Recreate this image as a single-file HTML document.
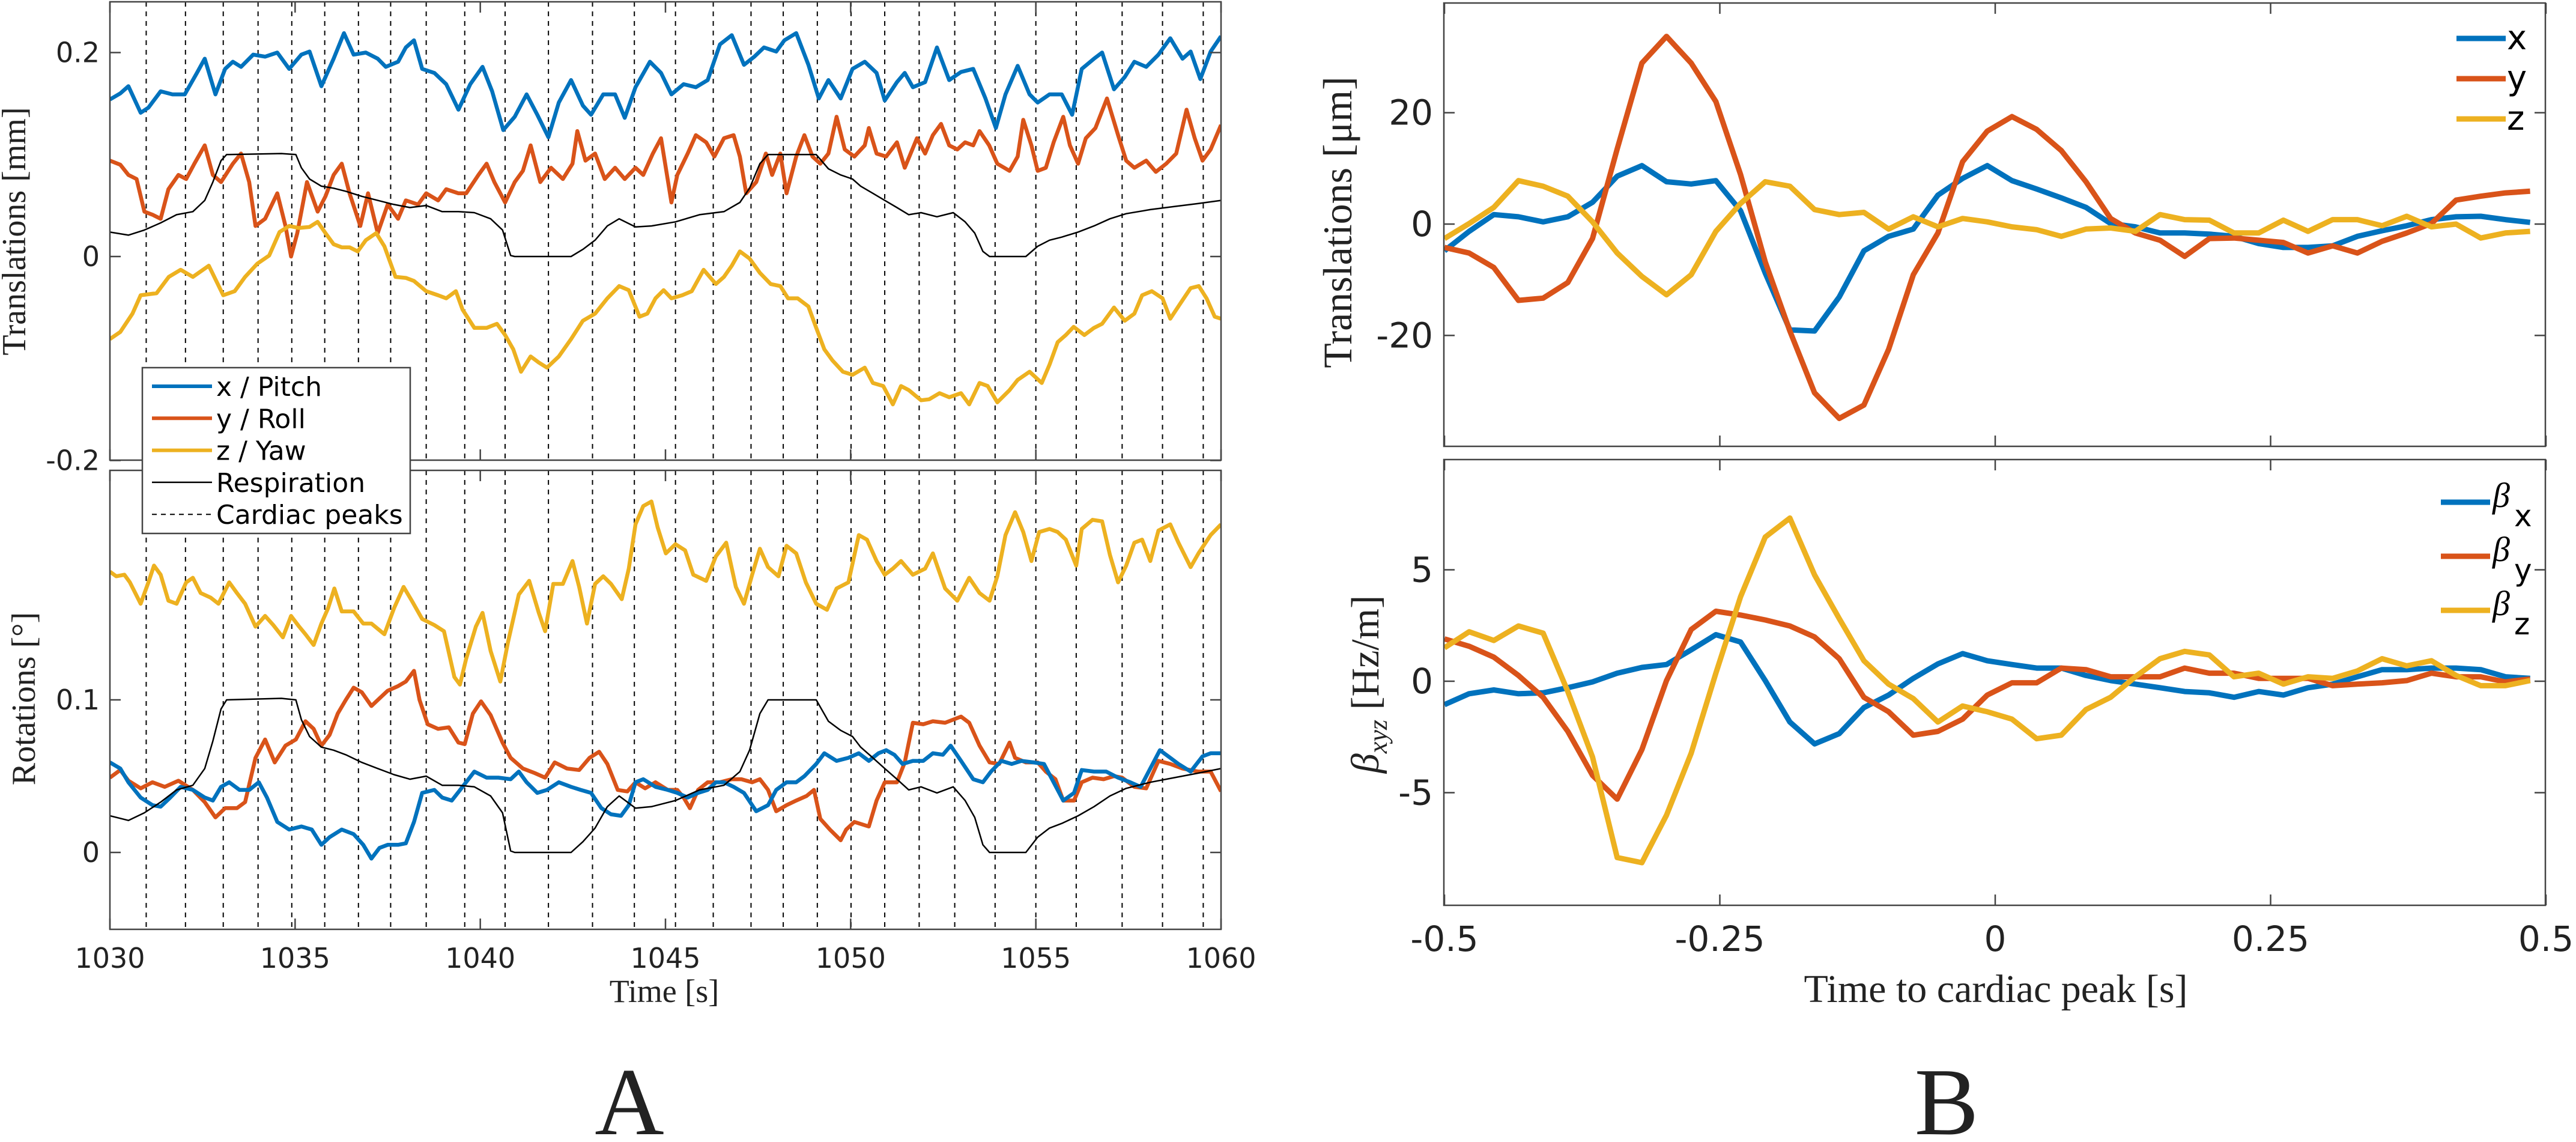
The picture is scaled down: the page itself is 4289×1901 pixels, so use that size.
<!DOCTYPE html>
<html><head><meta charset="utf-8"><style>
html,body{margin:0;padding:0;background:#fff;}
svg{display:block;}
</style></head><body>
<svg id="fig" xmlns="http://www.w3.org/2000/svg" width="4289" height="1901" viewBox="0 0 4289 1901">
<defs>
<clipPath id="cA1"><rect x="183" y="3" width="1850" height="763"/></clipPath>
<clipPath id="cA2"><rect x="183" y="783" width="1850" height="764"/></clipPath>
<clipPath id="cB1"><rect x="2404" y="5" width="1834" height="738"/></clipPath>
<clipPath id="cB2"><rect x="2404" y="765" width="1834" height="742"/></clipPath>
</defs>
<g id="root"></g>
</svg>
<script>
// ===== Panel A data =====
const cardiacPeaks=[1030.98,1032.04,1033.06,1034.0,1034.91,1035.80,1036.71,1037.58,1038.54,1039.58,1040.67,1041.84,1043.03,1044.16,1045.27,1046.29,1047.31,1048.18,1049.10,1050.01,1050.92,1051.85,1052.81,1053.90,1055.00,1056.09,1057.33,1058.42,1059.52];
const txT=[0,0.28,0.5,0.83,1.04,1.37,1.69,2.02,2.35,2.56,2.85,3.11,3.32,3.54,3.87,4.19,4.52,4.84,5.17,5.39,5.71,6.04,6.32,6.58,6.91,7.23,7.45,7.78,7.99,8.21,8.43,8.76,9.08,9.41,9.73,10.06,10.32,10.62,10.93,11.25,11.54,11.84,12.12,12.45,12.77,12.99,13.32,13.64,13.9,14.19,14.58,14.88,15.16,15.49,15.82,16.14,16.47,16.79,17.12,17.4,17.66,17.99,18.21,18.53,18.86,19.14,19.4,19.73,20.05,20.38,20.7,20.92,21.25,21.46,21.68,22.01,22.33,22.66,22.98,23.31,23.64,23.92,24.18,24.51,24.83,25.05,25.37,25.7,25.98,26.24,26.57,26.79,27.11,27.4,27.66,27.98,28.31,28.63,28.96,29.18,29.44,29.72,30];
const txV=[0.154,0.160,0.167,0.141,0.146,0.162,0.159,0.159,0.180,0.194,0.159,0.184,0.191,0.186,0.198,0.196,0.200,0.184,0.198,0.201,0.167,0.194,0.219,0.198,0.200,0.194,0.186,0.191,0.205,0.212,0.184,0.180,0.169,0.144,0.169,0.186,0.162,0.124,0.137,0.159,0.139,0.117,0.151,0.173,0.148,0.139,0.159,0.159,0.136,0.166,0.191,0.180,0.159,0.169,0.166,0.173,0.208,0.217,0.188,0.196,0.205,0.201,0.212,0.219,0.188,0.155,0.173,0.155,0.184,0.191,0.180,0.153,0.171,0.180,0.166,0.171,0.205,0.173,0.181,0.184,0.155,0.126,0.159,0.187,0.159,0.151,0.159,0.159,0.139,0.184,0.194,0.200,0.164,0.176,0.191,0.186,0.198,0.214,0.194,0.201,0.174,0.201,0.216];
const tyT=[0,0.28,0.5,0.72,0.93,1.15,1.37,1.58,1.85,2.06,2.28,2.56,2.78,3.0,3.32,3.54,3.76,3.93,4.19,4.52,4.74,4.89,5.06,5.32,5.61,5.82,6.04,6.26,6.47,6.76,6.97,7.23,7.5,7.78,7.99,8.32,8.54,8.86,9.08,9.41,9.62,9.95,10.17,10.38,10.67,10.93,11.15,11.36,11.62,11.91,12.23,12.49,12.62,12.84,13.1,13.36,13.64,13.9,14.19,14.4,14.66,14.88,15.16,15.32,15.6,15.82,16.1,16.32,16.58,16.84,17.01,17.18,17.45,17.71,17.88,18.1,18.27,18.53,18.75,18.97,19.18,19.4,19.62,19.84,20.1,20.38,20.49,20.7,20.96,21.25,21.46,21.79,22.01,22.22,22.44,22.66,22.88,23.09,23.31,23.48,23.74,23.96,24.29,24.51,24.66,24.88,25.05,25.27,25.48,25.74,25.92,26.14,26.35,26.61,26.92,27.22,27.44,27.66,27.98,28.24,28.52,28.79,29.07,29.29,29.5,29.72,30];
const tyV=[0.094,0.090,0.080,0.076,0.044,0.041,0.037,0.066,0.080,0.076,0.091,0.109,0.080,0.073,0.091,0.101,0.073,0.030,0.037,0.062,0.030,0.000,0.023,0.073,0.044,0.059,0.080,0.091,0.062,0.030,0.062,0.023,0.051,0.037,0.055,0.051,0.062,0.055,0.066,0.062,0.062,0.080,0.091,0.073,0.053,0.073,0.084,0.109,0.073,0.087,0.076,0.091,0.123,0.094,0.101,0.076,0.087,0.076,0.087,0.080,0.101,0.116,0.053,0.080,0.101,0.119,0.112,0.098,0.116,0.119,0.098,0.062,0.073,0.101,0.080,0.101,0.062,0.098,0.119,0.098,0.091,0.101,0.137,0.105,0.098,0.109,0.126,0.101,0.098,0.112,0.087,0.116,0.101,0.119,0.130,0.109,0.105,0.112,0.109,0.123,0.109,0.091,0.084,0.098,0.134,0.109,0.084,0.087,0.112,0.137,0.109,0.091,0.116,0.126,0.155,0.119,0.094,0.087,0.094,0.083,0.091,0.101,0.144,0.116,0.094,0.105,0.129];
const tzT=[0,0.28,0.61,0.83,1.26,1.59,1.91,2.24,2.67,3.06,3.37,3.65,3.98,4.3,4.58,4.84,5.1,5.39,5.61,5.82,6.04,6.26,6.47,6.69,6.91,7.19,7.41,7.71,7.99,8.21,8.54,8.86,9.08,9.34,9.52,9.84,10.17,10.45,10.67,10.89,11.1,11.36,11.58,11.8,12.12,12.45,12.77,13.1,13.43,13.75,14.01,14.3,14.51,14.73,14.95,15.16,15.45,15.71,16.03,16.36,16.58,16.79,17.01,17.27,17.55,17.84,18.1,18.31,18.57,18.86,19.07,19.29,19.51,19.79,20.05,20.38,20.6,20.88,21.14,21.36,21.57,21.9,22.12,22.4,22.66,22.98,23.2,23.48,23.7,23.96,24.29,24.51,24.83,25.16,25.37,25.59,25.81,26.02,26.31,26.57,26.79,27.11,27.4,27.66,27.87,28.13,28.42,28.63,28.92,29.18,29.4,29.61,29.83,30];
const tzV=[-0.081,-0.074,-0.056,-0.038,-0.036,-0.020,-0.013,-0.020,-0.009,-0.038,-0.034,-0.020,-0.007,0.001,0.024,0.030,0.028,0.029,0.034,0.023,0.012,0.009,0.009,0.005,0.016,0.023,0.010,-0.020,-0.021,-0.024,-0.034,-0.038,-0.041,-0.034,-0.052,-0.070,-0.070,-0.066,-0.077,-0.091,-0.113,-0.098,-0.104,-0.109,-0.098,-0.081,-0.063,-0.056,-0.041,-0.029,-0.033,-0.059,-0.056,-0.041,-0.033,-0.041,-0.038,-0.034,-0.013,-0.027,-0.020,-0.009,0.005,-0.002,-0.016,-0.027,-0.029,-0.041,-0.041,-0.049,-0.070,-0.091,-0.102,-0.113,-0.116,-0.109,-0.124,-0.127,-0.145,-0.127,-0.131,-0.141,-0.140,-0.134,-0.138,-0.134,-0.145,-0.124,-0.127,-0.143,-0.131,-0.121,-0.113,-0.124,-0.106,-0.084,-0.077,-0.069,-0.077,-0.070,-0.066,-0.050,-0.063,-0.056,-0.038,-0.034,-0.041,-0.061,-0.045,-0.031,-0.029,-0.041,-0.059,-0.061];
const respT=[0,0.5,0.93,1.37,1.8,2.24,2.56,2.78,3.0,3.15,4.63,5.02,5.17,5.39,5.71,6.04,6.37,6.8,7.23,7.67,8.1,8.54,8.97,9.41,9.84,10.28,10.6,10.82,10.93,12.45,12.77,13.1,13.43,13.75,14.19,14.62,15.27,15.92,16.58,17.01,17.27,17.55,17.77,19.07,19.4,19.73,20.05,20.27,20.6,20.92,21.25,21.57,21.9,22.33,22.77,23.09,23.35,23.57,23.75,24.73,25.05,25.37,25.7,26.14,26.57,27.0,27.44,28.09,28.74,29.39,30];
const respV=[0.024,0.021,0.026,0.033,0.041,0.044,0.055,0.073,0.094,0.100,0.101,0.100,0.087,0.076,0.069,0.067,0.064,0.059,0.055,0.051,0.048,0.050,0.044,0.044,0.043,0.037,0.026,0.001,0.000,0.000,0.007,0.016,0.030,0.037,0.029,0.030,0.034,0.041,0.044,0.053,0.067,0.091,0.100,0.100,0.086,0.080,0.076,0.069,0.062,0.055,0.048,0.041,0.043,0.039,0.043,0.034,0.023,0.005,0.000,0.000,0.010,0.016,0.019,0.024,0.030,0.037,0.042,0.046,0.049,0.052,0.055];
const rzT=[0,0.17,0.39,0.54,0.83,1.04,1.19,1.37,1.58,1.8,2.06,2.24,2.45,2.72,2.93,3.22,3.43,3.65,3.93,4.19,4.41,4.67,4.89,5.11,5.28,5.5,5.71,5.89,6.06,6.26,6.58,6.84,7.06,7.41,7.67,7.93,8.15,8.43,8.76,9.02,9.3,9.45,9.62,9.88,10.06,10.28,10.54,10.75,11.04,11.32,11.58,11.75,11.97,12.23,12.49,12.67,12.88,13.1,13.32,13.53,13.82,14.01,14.19,14.4,14.62,14.79,15.01,15.27,15.53,15.75,16.1,16.36,16.64,16.9,17.12,17.34,17.55,17.77,18.05,18.27,18.53,18.79,19.07,19.36,19.62,19.94,20.22,20.44,20.7,20.92,21.14,21.36,21.68,22.01,22.22,22.55,22.88,23.2,23.48,23.75,23.96,24.18,24.44,24.66,24.88,25.09,25.37,25.59,25.81,26.09,26.24,26.53,26.79,27.0,27.22,27.44,27.66,27.87,28.09,28.31,28.63,28.85,29.18,29.39,29.72,30];
const rzV=[0.184,0.181,0.182,0.177,0.163,0.177,0.188,0.182,0.165,0.163,0.177,0.180,0.170,0.167,0.163,0.177,0.170,0.163,0.148,0.155,0.149,0.141,0.155,0.148,0.143,0.136,0.150,0.160,0.173,0.158,0.158,0.150,0.150,0.143,0.160,0.174,0.165,0.153,0.149,0.145,0.115,0.110,0.127,0.148,0.157,0.132,0.112,0.138,0.169,0.178,0.157,0.145,0.176,0.176,0.191,0.174,0.150,0.176,0.181,0.176,0.166,0.186,0.215,0.227,0.230,0.213,0.196,0.202,0.198,0.182,0.178,0.194,0.203,0.174,0.163,0.182,0.199,0.187,0.181,0.201,0.196,0.177,0.163,0.159,0.173,0.177,0.208,0.205,0.191,0.182,0.186,0.191,0.182,0.186,0.196,0.173,0.165,0.180,0.170,0.165,0.181,0.208,0.223,0.210,0.191,0.210,0.212,0.210,0.205,0.188,0.212,0.218,0.217,0.195,0.177,0.188,0.203,0.205,0.191,0.211,0.215,0.203,0.187,0.196,0.208,0.215];
const ryT=[0,0.28,0.5,0.83,1.15,1.48,1.85,2.24,2.56,2.85,3.11,3.43,3.65,3.93,4.19,4.45,4.74,5.02,5.28,5.5,5.71,5.93,6.15,6.37,6.58,6.8,7.06,7.28,7.5,7.78,7.99,8.21,8.36,8.58,8.86,9.15,9.41,9.58,9.8,10.02,10.28,10.6,10.82,11.15,11.47,11.75,12.01,12.34,12.67,12.95,13.21,13.43,13.71,13.97,14.19,14.45,14.73,15.06,15.32,15.49,15.66,15.88,16.14,16.47,16.79,17.05,17.34,17.55,17.77,17.99,18.27,18.53,18.81,19.01,19.18,19.44,19.73,19.88,20.1,20.49,20.7,20.92,21.25,21.46,21.68,21.96,22.22,22.55,22.98,23.2,23.48,23.75,24.01,24.29,24.44,24.73,25.05,25.27,25.53,25.74,26.03,26.24,26.53,26.83,27.11,27.33,27.66,27.98,28.31,28.63,28.96,29.39,29.72,30];
const ryV=[0.049,0.054,0.047,0.042,0.046,0.043,0.047,0.041,0.033,0.023,0.029,0.029,0.033,0.062,0.074,0.059,0.070,0.074,0.086,0.081,0.070,0.077,0.091,0.100,0.108,0.105,0.096,0.101,0.106,0.109,0.112,0.119,0.100,0.084,0.081,0.082,0.072,0.071,0.091,0.099,0.090,0.072,0.062,0.055,0.052,0.049,0.059,0.055,0.054,0.062,0.066,0.058,0.041,0.040,0.046,0.042,0.046,0.041,0.041,0.036,0.029,0.041,0.046,0.046,0.048,0.048,0.046,0.048,0.041,0.027,0.031,0.034,0.037,0.041,0.022,0.015,0.008,0.015,0.020,0.017,0.034,0.046,0.046,0.059,0.085,0.084,0.086,0.085,0.089,0.085,0.070,0.059,0.058,0.072,0.062,0.059,0.059,0.053,0.048,0.034,0.034,0.046,0.049,0.048,0.050,0.049,0.043,0.042,0.060,0.058,0.055,0.053,0.053,0.040];
const rxT=[0,0.28,0.5,0.83,1.15,1.37,1.63,1.91,2.24,2.56,2.78,3.0,3.22,3.5,3.76,4.02,4.24,4.52,4.84,5.17,5.45,5.71,5.93,6.26,6.58,6.84,7.06,7.28,7.5,7.78,7.99,8.21,8.43,8.76,8.97,9.23,9.52,9.84,10.17,10.49,10.82,11.04,11.25,11.54,11.8,12.12,12.45,12.71,12.99,13.27,13.53,13.8,14.01,14.19,14.4,14.73,15.06,15.32,15.6,15.88,16.14,16.36,16.58,16.84,17.12,17.45,17.77,17.99,18.27,18.53,18.75,19.07,19.29,19.62,19.94,20.22,20.49,20.75,20.96,21.18,21.4,21.68,21.96,22.22,22.49,22.7,22.98,23.31,23.57,23.79,24.07,24.35,24.61,24.94,25.22,25.48,25.74,26.03,26.24,26.57,26.9,27.22,27.55,27.83,28.09,28.35,28.63,28.85,29.18,29.5,29.72,30];
const rxV=[0.059,0.055,0.046,0.036,0.031,0.030,0.036,0.043,0.041,0.036,0.034,0.043,0.046,0.041,0.041,0.046,0.036,0.020,0.015,0.017,0.015,0.005,0.010,0.015,0.012,0.005,-0.004,0.003,0.005,0.005,0.006,0.020,0.039,0.041,0.036,0.034,0.043,0.053,0.049,0.049,0.048,0.053,0.046,0.039,0.041,0.046,0.043,0.041,0.039,0.029,0.025,0.024,0.031,0.046,0.048,0.043,0.041,0.039,0.036,0.039,0.041,0.046,0.046,0.043,0.039,0.027,0.031,0.041,0.046,0.046,0.050,0.058,0.065,0.060,0.062,0.065,0.060,0.065,0.067,0.064,0.058,0.060,0.060,0.065,0.064,0.070,0.060,0.048,0.046,0.053,0.060,0.058,0.060,0.059,0.058,0.046,0.034,0.039,0.054,0.053,0.053,0.049,0.046,0.043,0.055,0.067,0.062,0.058,0.053,0.063,0.065,0.065];
const aXTicks=[1030,1035,1040,1045,1050,1055,1060];
const aTopYTicks=[0.2,0,-0.2];
const aTopYLabels=["0.2","0","-0.2"];
const aBotYTicks=[0.1,0];
const aBotYLabels=["0.1","0"];
// ===== Panel B data =====
const bStep=0.0224;
const bTx=[-4.8,-1.3,1.7,1.3,0.4,1.3,3.9,8.6,10.5,7.6,7.2,7.8,2.4,-8.8,-19.0,-19.2,-13.1,-4.8,-2.2,-0.9,5.2,8.2,10.5,7.8,6.3,4.7,3.0,0.1,-0.5,-1.6,-1.6,-1.8,-2.2,-3.5,-4.2,-4.2,-3.9,-2.2,-1.2,-0.3,0.8,1.3,1.4,0.8,0.3];
const bTy=[-4.2,-5.2,-7.8,-13.7,-13.3,-10.5,-2.6,13.5,28.9,33.7,28.9,22.0,8.9,-6.8,-19.2,-30.3,-34.9,-32.5,-22.5,-9.1,-1.6,11.2,16.7,19.3,17.0,13.2,7.6,1.0,-1.6,-2.9,-5.8,-2.6,-2.5,-2.9,-3.3,-5.2,-3.9,-5.2,-3.1,-1.6,0.1,4.3,5.0,5.6,5.9];
const bTz=[-2.6,0.1,3.0,7.8,6.8,5.0,0.4,-5.2,-9.4,-12.7,-9.1,-1.3,3.7,7.6,6.8,2.6,1.7,2.1,-0.9,1.3,-0.5,1.0,0.4,-0.5,-1.0,-2.2,-0.9,-0.7,-1.3,1.7,0.8,0.7,-1.6,-1.6,0.7,-1.3,0.8,0.8,-0.3,1.4,-0.5,0.0,-2.5,-1.6,-1.3];
const bBx=[-1.05,-0.56,-0.39,-0.56,-0.52,-0.29,-0.03,0.36,0.62,0.75,1.41,2.09,1.76,0.03,-1.83,-2.81,-2.35,-1.18,-0.62,0.13,0.78,1.24,0.92,0.75,0.59,0.59,0.26,0.03,-0.13,-0.29,-0.46,-0.52,-0.72,-0.46,-0.62,-0.29,-0.13,0.20,0.52,0.52,0.59,0.59,0.52,0.20,0.13];
const bBy=[1.90,1.57,1.08,0.26,-0.72,-2.25,-4.22,-5.29,-3.07,0.03,2.32,3.14,2.97,2.75,2.48,1.99,1.01,-0.72,-1.37,-2.42,-2.25,-1.70,-0.62,-0.07,-0.07,0.59,0.52,0.20,0.20,0.20,0.59,0.36,0.36,0.13,0.13,0.13,-0.20,-0.13,-0.07,0.03,0.36,0.20,0.20,-0.03,0.10];
const bBz=[1.50,2.22,1.83,2.48,2.16,-0.46,-3.40,-7.91,-8.14,-6.01,-3.23,0.36,3.79,6.47,7.32,4.77,2.81,0.92,-0.13,-0.78,-1.83,-1.11,-1.37,-1.70,-2.58,-2.42,-1.27,-0.72,0.20,1.01,1.34,1.18,0.20,0.36,-0.13,0.20,0.13,0.46,1.01,0.69,0.92,0.26,-0.20,-0.20,0.03];
const bXTicks=[-0.5,-0.25,0,0.25,0.5];
const bXLabels=["-0.5","-0.25","0","0.25","0.5"];
const bTopYTicks=[20,0,-20];
const bBotYTicks=[5,0,-5];

const NS="http://www.w3.org/2000/svg";
const root=document.getElementById('root');
const C={b:"#0072BD",o:"#D95319",y:"#EDB120"};
function mk(tag,attrs,parent){const e=document.createElementNS(NS,tag);for(const k in attrs)e.setAttribute(k,attrs[k]);(parent||root).appendChild(e);return e;}
function txt(s,attrs,parent){const e=mk('text',attrs,parent);e.textContent=s;return e;}

const axA={x0:183,x1:2033,t0:1030,t1:1060};
const xA=t=>axA.x0+(t-axA.t0)/(axA.t1-axA.t0)*(axA.x1-axA.x0);
const yA1=v=>427-v*1697.5;
const yA2=v=>1419-v*2540;
const xB=t=>3322+t*1834;
const yB1=v=>373-v*9.27;
const yB2=v=>1134-v*37.1;

function poly(xs,ys,fx,fy,color,w,clip,name){
  let d="";for(let i=0;i<xs.length;i++){d+=(i?"L":"M")+fx(xs[i]).toFixed(1)+","+fy(ys[i]).toFixed(1);}
  const p=mk('path',{d:d,fill:"none",stroke:color,"stroke-width":w,"stroke-linejoin":"round","clip-path":"url(#"+clip+")"});
  
  
  return p;
}
function box(x,y,w,h,name){
  const r=mk('rect',{x:x,y:y,width:w,height:h,fill:"none",stroke:"#444","stroke-width":2.5});
  
  
}
const tickFontA='font-family:"DejaVu Sans","Liberation Sans",sans-serif;font-size:46px;fill:#222';
const tickFontB='font-family:"DejaVu Sans","Liberation Sans",sans-serif;font-size:58px;fill:#222';
const serif='font-family:"Liberation Serif",serif;fill:#222';

function panelA(top,bot,fy,clip,yt,yl,name,series){
  cardiacPeaks.forEach(t=>{const l=mk('line',{x1:xA(t),x2:xA(t),y1:top,y2:bot,stroke:"#000","stroke-width":2,"stroke-dasharray":"8,8"});
    
    });
  series.forEach(s=>poly(s[0],s[1],t=>xA(1030+t),fy,s[2],s[3],clip,s[4]));
  box(183,top,1850,bot-top,name+'-axes');
  aXTicks.forEach(t=>{mk('line',{x1:xA(t),x2:xA(t),y1:bot,y2:bot-18,stroke:"#444","stroke-width":2.5});mk('line',{x1:xA(t),x2:xA(t),y1:top,y2:top+18,stroke:"#444","stroke-width":2.5});});
  yt.forEach((v,i)=>{const y=fy(v);mk('line',{x1:183,x2:201,y1:y,y2:y,stroke:"#444","stroke-width":2.5});mk('line',{x1:2033,x2:2015,y1:y,y2:y,stroke:"#444","stroke-width":2.5});
    const t=txt(yl[i],{x:166,y:y+16,"text-anchor":"end",style:tickFontA});
    
    });
}
panelA(3,766,yA1,'cA1',aTopYTicks,aTopYLabels,'translations',[
  [txT,txV,C.b,6.5,'x-translation-line'],[tyT,tyV,C.o,6.5,'y-translation-line'],[tzT,tzV,C.y,6.5,'z-translation-line'],[respT,respV,"#000",2.5,'respiration-line-top']]);
panelA(783,1547,yA2,'cA2',aBotYTicks,aBotYLabels,'rotations',[
  [rzT,rzV,C.y,6.5,'yaw-line'],[ryT,ryV,C.o,6.5,'roll-line'],[rxT,rxV,C.b,6.5,'pitch-line'],[respT,respV,"#000",2.5,'respiration-line-bottom']]);
aXTicks.forEach(t=>{const e=txt(String(t),{x:xA(t),y:1611,"text-anchor":"middle",style:tickFontA});
  
  });
let e;
e=txt("Time [s]",{x:1106,y:1668,"text-anchor":"middle",style:serif+';font-size:54px'});

e=txt("Translations [mm]",{x:0,y:0,"text-anchor":"middle",transform:"translate(42,385) rotate(-90)",style:serif+';font-size:56px'});

e=txt("Rotations [°]",{x:0,y:0,"text-anchor":"middle",transform:"translate(58,1163) rotate(-90)",style:serif+';font-size:56px'});


const lg=mk('g',{});


mk('rect',{x:237,y:612,width:446,height:276,fill:"#fff",stroke:"#444","stroke-width":2.5},lg);
const legItems=[["x / Pitch",C.b,6,""],["y / Roll",C.o,6,""],["z / Yaw",C.y,6,""],["Respiration","#000",2.5,""],["Cardiac peaks","#000",2,"8,7"]];
legItems.forEach((it,i)=>{const y=643+i*53.3;
  const g=mk('g',{},lg);
  
  
  const a={x1:253,x2:353,y1:y,y2:y,stroke:it[1],"stroke-width":it[2]};if(it[3])a["stroke-dasharray"]=it[3];
  mk('line',a,g);
  txt(it[0],{x:360,y:y+16,style:'font-family:"DejaVu Sans",sans-serif;font-size:44px;fill:#000'},g);});

const bT=bTx.map((_,i)=>-0.5+i*bStep);
function panelB(top,bot,fy,clip,yt,series,name,legend){
  series.forEach(s=>poly(bT,s[0],t=>xB(t),fy,s[1],9,clip,s[2]));
  box(2404,top,1834,bot-top,name+'-axes');
  bXTicks.forEach(t=>{mk('line',{x1:xB(t),x2:xB(t),y1:bot,y2:bot-18,stroke:"#444","stroke-width":2.5});mk('line',{x1:xB(t),x2:xB(t),y1:top,y2:top+18,stroke:"#444","stroke-width":2.5});});
  yt.forEach(v=>{const y=fy(v);mk('line',{x1:2404,x2:2422,y1:y,y2:y,stroke:"#444","stroke-width":2.5});mk('line',{x1:4238,x2:4220,y1:y,y2:y,stroke:"#444","stroke-width":2.5});
    const t=txt(String(v),{x:2386,y:y+20,"text-anchor":"end",style:tickFontB});
    
    });
  legend();
}
panelB(5,743,yB1,'cB1',bTopYTicks,[[bTx,C.b,'bx-line'],[bTy,C.o,'by-line'],[bTz,C.y,'bz-line']],'b-translations',()=>{
  const g=mk('g',{});
  [["x",C.b],["y",C.o],["z",C.y]].forEach((it,i)=>{const y=64+i*67;
    mk('line',{x1:4090,x2:4172,y1:y,y2:y,stroke:it[1],"stroke-width":9},g);
    txt(it[0],{x:4174,y:y+18,style:'font-family:"DejaVu Sans",sans-serif;font-size:56px;fill:#000'},g);});
});
panelB(765,1507,yB2,'cB2',bBotYTicks,[[bBx,C.b,'beta-x-line'],[bBy,C.o,'beta-y-line'],[bBz,C.y,'beta-z-line']],'b-beta',()=>{
  const g=mk('g',{});
  [["x",C.b],["y",C.o],["z",C.y]].forEach((it,i)=>{const y=836+i*90;
    mk('line',{x1:4064,x2:4146,y1:y,y2:y,stroke:it[1],"stroke-width":9},g);
    const t=mk('text',{x:4150,y:y+8,style:'font-family:"Liberation Serif",serif;font-style:italic;font-size:58px;fill:#000'},g);
    t.textContent="β";
    txt(it[0],{x:4186,y:y+40,style:'font-family:"DejaVu Sans",sans-serif;font-size:50px;fill:#000'},g);});
});
bXTicks.forEach((t,i)=>{const e=txt(bXLabels[i],{x:xB(t),y:1583,"text-anchor":"middle",style:tickFontB});
  
  });
e=txt("Time to cardiac peak [s]",{x:3323,y:1668,"text-anchor":"middle",style:serif+';font-size:66px'});

e=txt("Translations [μm]",{x:0,y:0,"text-anchor":"middle",transform:"translate(2250,370) rotate(-90)",style:serif+';font-size:68px'});

e=mk('text',{x:0,y:0,"text-anchor":"middle",transform:"translate(2295,1139) rotate(-90)",style:serif+';font-size:66px'});
e.innerHTML='<tspan font-style="italic">β</tspan><tspan font-style="italic" font-size="44" dy="14">xyz</tspan><tspan dy="-14"> [Hz/m]</tspan>';


e=txt("A",{x:1048,y:1888,"text-anchor":"middle",style:serif+';font-size:160px'});

e=txt("B",{x:3241,y:1888,"text-anchor":"middle",style:serif+';font-size:160px'});

</script>
</body></html>
